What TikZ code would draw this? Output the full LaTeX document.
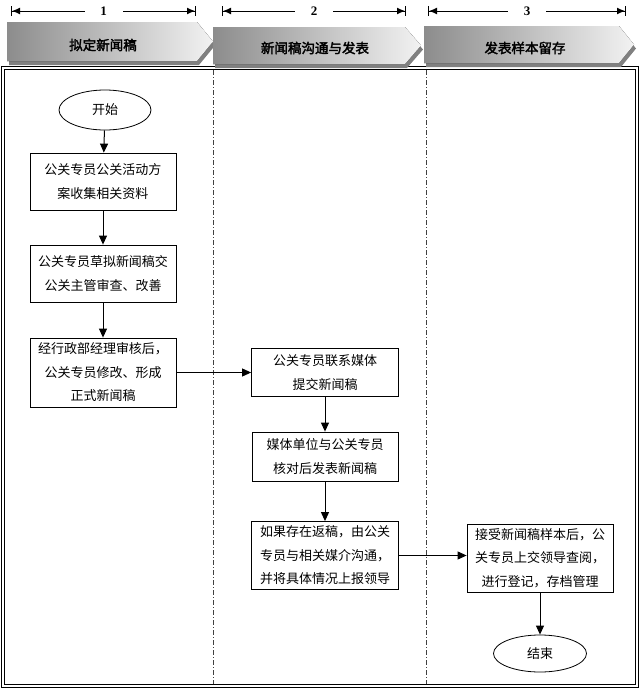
\documentclass[tikz,border=0pt]{standalone}
\usepackage{fontspec}
\newfontfamily\cjk{Noto Sans CJK SC}
\newfontfamily\cjkbf[FakeBold=2.5]{Noto Sans CJK SC}
\newfontfamily\numfont{Liberation Serif}
\usetikzlibrary{shapes.geometric,arrows.meta,calc}

\begin{document}
\begin{tikzpicture}[x=1pt,y=-1pt,font=\cjk\fontsize{13}{23.5}\selectfont,
 >={Triangle[length=9pt,width=8pt]},
 stepbox/.style={draw, line width=0.8pt, align=center, inner sep=2pt},
 term/.style={ellipse, draw, line width=0.8pt, inner sep=0pt},
 flow/.style={->, line width=1pt},
 lane/.style={draw=black!75, line width=0.8pt, dash pattern=on 5pt off 2pt on 1pt off 2pt},
 phase/.style={left color=black!45, right color=black!5},
 phaseshadow/.style={fill=black!50},
 span/.style={{Bar[width=10pt]Latex[length=8pt,width=7pt]}-{Latex[length=8pt,width=7pt]Bar[width=10pt]}, line width=1pt},
 spanlabel/.style={fill=white, font=\numfont\bfseries\fontsize{13}{13}\selectfont, minimum width=38pt, inner sep=1pt},
 phasetext/.style={font=\cjkbf\fontsize{13.5}{13.5}\selectfont}]

 \useasboundingbox (0,0) rectangle (640,689);

 % frame and lanes
 \draw[line width=0.9pt, double, double distance=1.6pt] (3,68) rectangle (637,686);
 \draw[lane] (213,70) -- (213,684);
 \draw[lane] (426,70) -- (426,684);

 % phase headers
 \fill[phaseshadow, shift={(2,4)}] (7,22) -- (197,22) -- (213,41.5) -- (197,61) -- (7,61) -- cycle;
 \fill[phase] (7,22) -- (197,22) -- (213,41.5) -- (197,61) -- (7,61) -- cycle;
 \fill[phaseshadow, shift={(2,4)}] (213,27) -- (405,27) -- (421,45.5) -- (405,64) -- (213,64) -- cycle;
 \fill[phase] (213,27) -- (405,27) -- (421,45.5) -- (405,64) -- (213,64) -- cycle;
 \fill[phaseshadow, shift={(2,4)}] (424,26) -- (619,26) -- (634,44.5) -- (619,63) -- (424,63) -- cycle;
 \fill[phase] (424,26) -- (619,26) -- (634,44.5) -- (619,63) -- (424,63) -- cycle;
 \node[phasetext] (ph1) at (103,45) {拟定新闻稿};
 \node[phasetext] (ph2) at (315,48) {新闻稿沟通与发表};
 \node[phasetext] (ph3) at (525,48) {发表样本留存};

 \coordinate (s1l) at (11,11);  \coordinate (s1r) at (196,11);
 \coordinate (s2l) at (222,11); \coordinate (s2r) at (406,11);
 \coordinate (s3l) at (428,11); \coordinate (s3r) at (626,11);
 \draw[span] (s1l) -- (s1r) node[spanlabel, midway] (n1) {1};
 \draw[span] (s2l) -- (s2r) node[spanlabel, midway] (n2) {2};
 \draw[span] (s3l) -- (s3r) node[spanlabel, midway] (n3) {3};

 % steps
 \node[term, minimum width=92pt, minimum height=40pt] (start) at (105,110) {开始};
 \node[stepbox, minimum width=146pt, minimum height=57pt] (b1) at (103,181.5) {公关专员公关活动方\\案收集相关资料};
 \node[stepbox, minimum width=146pt, minimum height=57pt] (b2) at (103,273.5) {公关专员草拟新闻稿交\\公关主管审查、改善};
 \node[stepbox, minimum width=146pt, minimum height=69pt] (b3) at (103,372.5) {经行政部经理审核后，\\公关专员修改、形成\\正式新闻稿};
 \node[stepbox, minimum width=147pt, minimum height=48pt] (b4) at (325,372.5) {公关专员联系媒体\\提交新闻稿};
 \node[stepbox, minimum width=146pt, minimum height=49pt] (b5) at (325,456.5) {媒体单位与公关专员\\核对后发表新闻稿};
 \node[stepbox, minimum width=147pt, minimum height=68pt] (b6) at (325,555.5) {如果存在返稿，由公关\\专员与相关媒介沟通，\\并将具体情况上报领导};
 \node[stepbox, minimum width=146pt, minimum height=68pt] (b7) at (540,558) {接受新闻稿样本后，公\\关专员上交领导查阅，\\进行登记，存档管理};
 \node[term, minimum width=93pt, minimum height=37pt] (end) at (540,653.5) {结束};

 \draw[flow] (start) -- (b1);
 \draw[flow] (b1) -- (b2);
 \draw[flow] (b2) -- (b3);
 \draw[flow] (b3) -- (b4);
 \draw[flow] (b4) -- (b5);
 \draw[flow] (b5) -- (b6);
 \draw[flow] (b6.east) -- (b6.east -| b7.west);
 \draw[flow] (b7) -- (end);
\end{tikzpicture}
\end{document}
